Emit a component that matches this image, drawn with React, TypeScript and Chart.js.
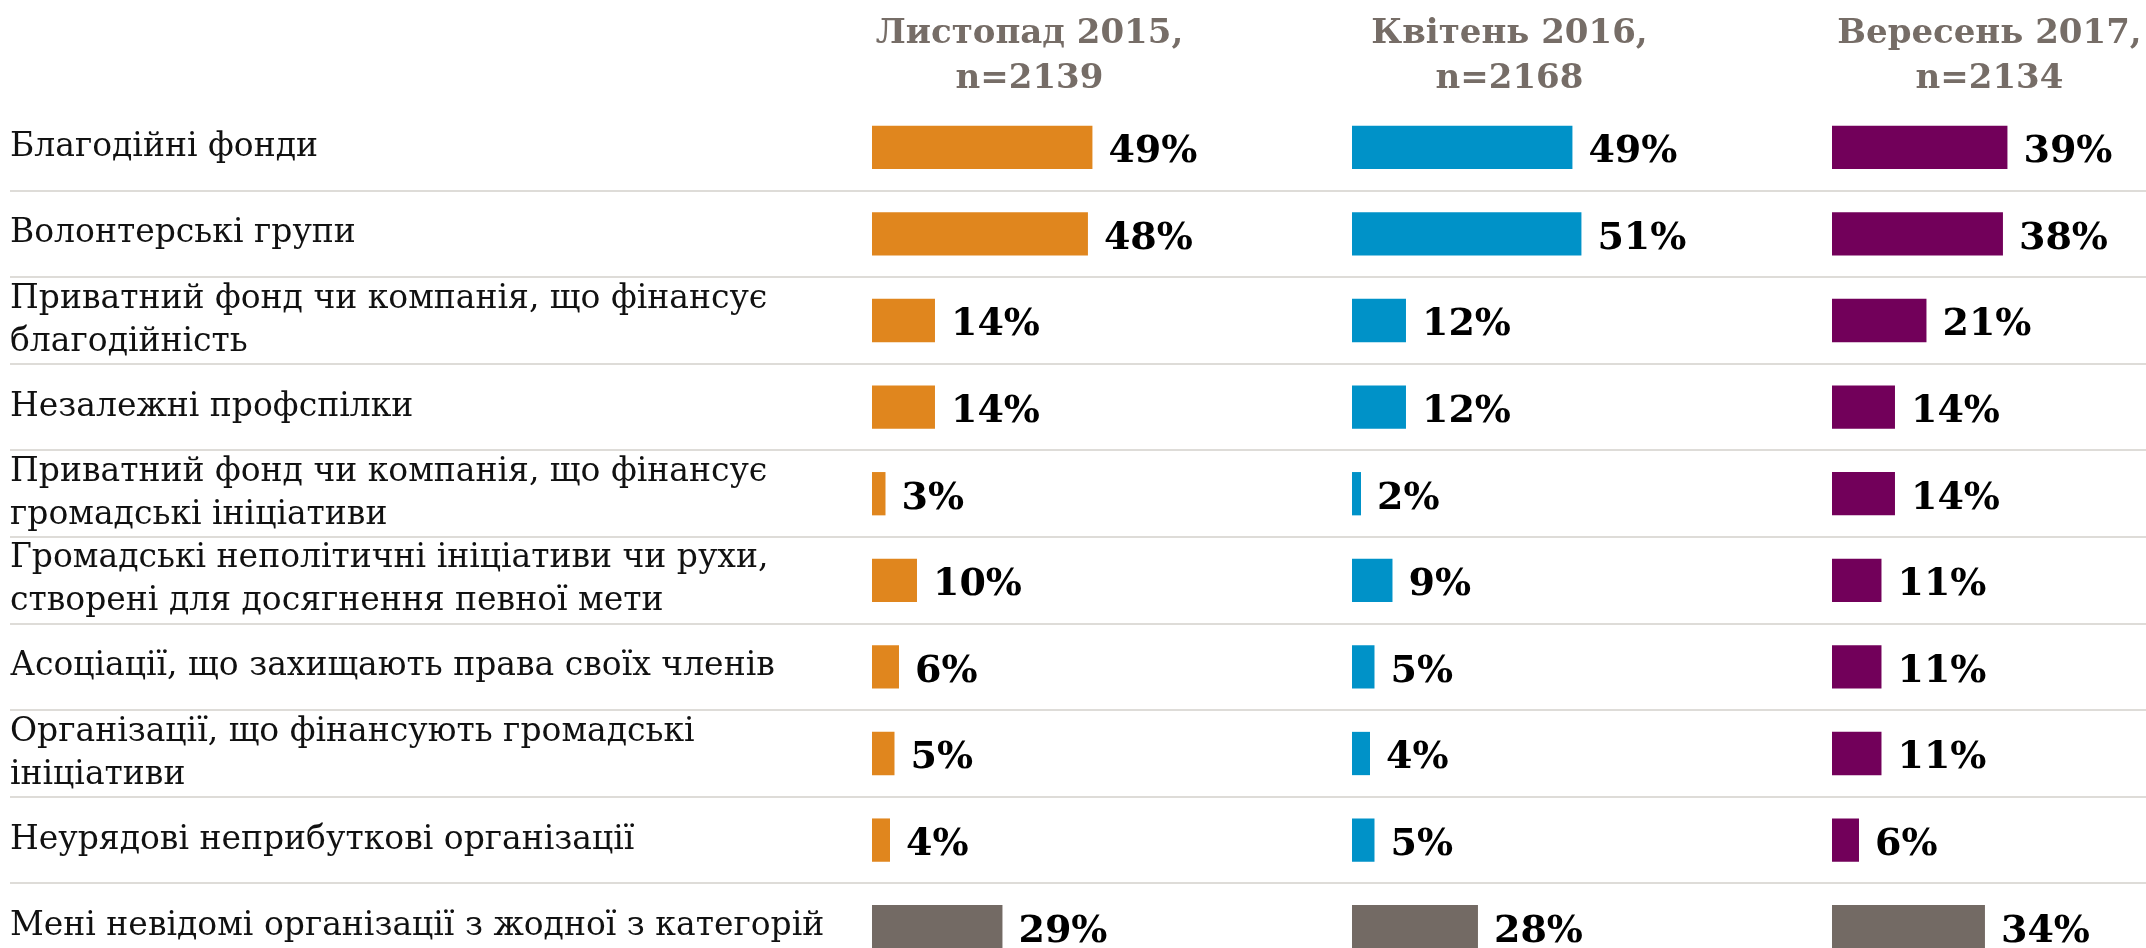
import { useEffect, useRef } from "react";
import { Chart, registerables } from "chart.js";

Chart.register(...registerables);

const CATEGORIES: string[][] = [
  ["Благодійні фонди"],
  ["Волонтерські групи"],
  ["Приватний фонд чи компанія, що фінансує", "благодійність"],
  ["Незалежні профспілки"],
  ["Приватний фонд чи компанія, що фінансує", "громадські ініціативи"],
  ["Громадські неполітичні ініціативи чи рухи,", "створені для досягнення певної мети"],
  ["Асоціації, що захищають права своїх членів"],
  ["Організації, що фінансують громадські", "ініціативи"],
  ["Неурядові неприбуткові організації"],
  ["Мені невідомі організації з жодної з категорій"],
];

const SERIES_NAMES = ["Листопад 2015", "Квітень 2016", "Вересень 2017"];
const HEADERS: string[][] = [
  ["Листопад 2015,", "n=2139"],
  ["Квітень 2016,", "n=2168"],
  ["Вересень 2017,", "n=2134"],
];

const NOV_2015 = [49, 48, 14, 14, 3, 10, 6, 5, 4, 29];
const APR_2016 = [49, 51, 12, 12, 2, 9, 5, 4, 5, 28];
const SEP_2017 = [39, 38, 21, 14, 14, 11, 11, 11, 6, 34];

const SERIES = [NOV_2015, APR_2016, SEP_2017];
const COLORS = ["#E0861E", "#0092C8", "#72005A"];
const UNKNOWN_COLOR = "#736A64";
const COLUMN_MAX = [106.7, 106.7, 69.8];
const AXIS_IDS = ["x0", "x1", "x2"];

const LABEL_FONT = '"DejaVu Serif", serif';

const valueLabels = {
  id: "valueLabels",
  afterDatasetsDraw(chart: any) {
    const ctx = chart.ctx;
    ctx.save();
    ctx.font = `bold 38px ${LABEL_FONT}`;
    ctx.fillStyle = "#000";
    ctx.textAlign = "left";
    ctx.textBaseline = "middle";
    chart.data.datasets.forEach((ds: any, i: number) => {
      const meta = chart.getDatasetMeta(i);
      meta.data.forEach((bar: any, j: number) => {
        ctx.fillText(`${ds.data[j]}%`, bar.x + 16, bar.y + 5);
      });
    });
    ctx.restore();
  },
};

const columnHeaders = {
  id: "columnHeaders",
  afterDraw(chart: any) {
    const ctx = chart.ctx;
    ctx.save();
    ctx.font = `bold 34px ${LABEL_FONT}`;
    ctx.fillStyle = "#766D67";
    ctx.textAlign = "center";
    ctx.textBaseline = "alphabetic";
    AXIS_IDS.forEach((id, i) => {
      const scale = chart.scales[id];
      const cx = scale.getPixelForValue(35);
      HEADERS[i].forEach((line, k) => {
        ctx.fillText(line, cx, 43 + k * 45);
      });
    });
    ctx.restore();
  },
};

export default function App() {
  const canvasRef = useRef<HTMLCanvasElement | null>(null);

  useEffect(() => {
    if (!canvasRef.current) return;
    const last = CATEGORIES.length - 1;
    const scales: any = {
      y: {
        type: "category",
        position: "left",
        offset: true,
        border: { display: false },
        grid: {
          offset: true,
          drawTicks: true,
          tickLength: 862,
          lineWidth: 2,
          color: (c: any) => (c.index === 0 ? "rgba(0,0,0,0)" : "#DEDCD8"),
          tickColor: (c: any) => (c.index === 0 ? "rgba(0,0,0,0)" : "#DEDCD8"),
        },
        ticks: {
          autoSkip: false,
          crossAlign: "far",
          color: "#111",
          padding: 0,
          font: { family: LABEL_FONT, size: 33, lineHeight: 1.3 },
        },
        afterFit: (scale: any) => {
          scale.width = 862;
        },
      },
    };
    AXIS_IDS.forEach((id, i) => {
      scales[id] = {
        type: "linear",
        position: "bottom",
        stack: "columns",
        stackWeight: COLUMN_MAX[i],
        min: 0,
        max: COLUMN_MAX[i],
        display: false,
      };
    });

    const chart = new Chart(canvasRef.current, {
      type: "bar",
      data: {
        labels: CATEGORIES,
        datasets: SERIES.map((values, i) => ({
          label: SERIES_NAMES[i],
          data: values,
          xAxisID: AXIS_IDS[i],
          grouped: false,
          barPercentage: 0.5,
          categoryPercentage: 1,
          borderWidth: 0,
          backgroundColor: (c: any) => (c.dataIndex === last ? UNKNOWN_COLOR : COLORS[i]),
        })),
      },
      options: {
        indexAxis: "y",
        responsive: true,
        maintainAspectRatio: false,
        animation: false,
        layout: { padding: { top: 104, bottom: 30, left: 10, right: 0 } },
        plugins: {
          legend: { display: false },
          tooltip: { enabled: false },
        },
        scales,
      },
      plugins: [valueLabels, columnHeaders],
    } as any);

    return () => chart.destroy();
  }, []);

  return (
    <div
      style={{
        position: "fixed",
        left: 0,
        top: 0,
        width: 2146,
        height: 948,
        overflow: "hidden",
        background: "#fff",
      }}
    >
      <div style={{ position: "relative", width: 2146, height: 1000 }}>
        <canvas ref={canvasRef} />
      </div>
    </div>
  );
}
